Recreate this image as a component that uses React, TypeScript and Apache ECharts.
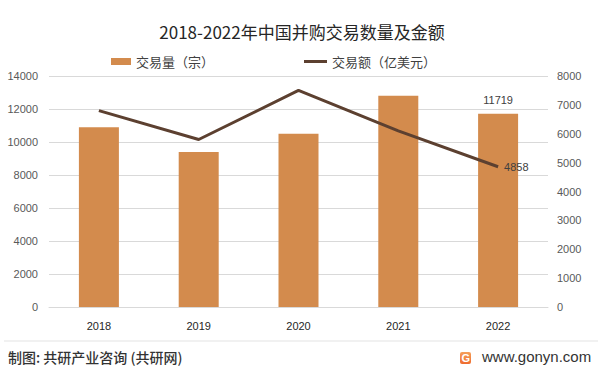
import React, { useEffect, useRef } from "react";
import * as echarts from "echarts";

const categories = ["2018", "2019", "2020", "2021", "2022"];
const dealCount = [10900, 9400, 10500, 12800, 11719];
const dealValue = [6800, 5800, 7500, 6100, 4858];
const leftTicks = [0, 14000, 2000];
const rightTicks = [0, 8000, 1000];

export default function App() {
  const ref = useRef<HTMLDivElement>(null);
  useEffect(() => {
    if (!ref.current) return;
    const chart = echarts.init(ref.current, undefined, { renderer: "svg" });
    const font = "'Noto Sans CJK SC', 'Noto Sans', sans-serif";
    const numFont = "'Liberation Sans', Arial, sans-serif";
    chart.setOption({
      animation: false,
      backgroundColor: "#ffffff",
      title: {
        text: "2018-2022年中国并购交易数量及金额",
        left: "center",
        top: 18,
        textStyle: { fontFamily: font, fontSize: 17, fontWeight: "normal", color: "#262626" },
      },
      legend: [
        {
          left: 106,
          top: 50,
          itemWidth: 20,
          itemHeight: 7,
          data: [{ name: "交易量（宗）", icon: "rect" }],
          textStyle: { fontFamily: font, fontSize: 13, color: "#404040" },
        },
        {
          left: 299,
          top: 50,
          itemWidth: 23,
          itemHeight: 3,
          data: [{ name: "交易额（亿美元）", icon: "rect" }],
          textStyle: { fontFamily: font, fontSize: 13, color: "#404040" },
        },
      ],
      grid: { left: 49, right: 56, top: 76, bottom: 66 },
      xAxis: {
        type: "category",
        data: categories,
        axisTick: { show: false },
        axisLine: { lineStyle: { color: "#d9d9d9" } },
        axisLabel: { fontFamily: numFont, fontSize: 11, color: "#262626", margin: 13 },
      },
      yAxis: [
        {
          type: "value",
          min: leftTicks[0],
          max: leftTicks[1],
          interval: leftTicks[2],
          axisLine: { show: false },
          axisTick: { show: false },
          splitLine: { lineStyle: { color: "#d9d9d9" } },
          axisLabel: { fontFamily: numFont, fontSize: 11, color: "#595959", margin: 11, formatter: (v: number) => String(v) },
        },
        {
          type: "value",
          min: rightTicks[0],
          max: rightTicks[1],
          interval: rightTicks[2],
          axisLine: { show: false },
          axisTick: { show: false },
          splitLine: { show: false },
          axisLabel: { fontFamily: numFont, fontSize: 11, color: "#595959", margin: 9, formatter: (v: number) => String(v) },
        },
      ],
      series: [
        {
          name: "交易量（宗）",
          type: "bar",
          data: dealCount.map((v, i) =>
            i === dealCount.length - 1
              ? { value: v, label: { show: true, position: "top", distance: 8, fontFamily: numFont, fontSize: 11, color: "#404040" } }
              : v
          ),
          barWidth: 40,
          itemStyle: { color: "#D38B4D" },
        },
        {
          name: "交易额（亿美元）",
          type: "line",
          yAxisIndex: 1,
          data: dealValue.map((v, i) =>
            i === dealValue.length - 1
              ? { value: v, label: { show: true, position: "right", distance: 6, fontFamily: numFont, fontSize: 11, color: "#404040" } }
              : v
          ),
          symbol: "circle",
          symbolSize: 0,
          showSymbol: true,
          lineStyle: { color: "#5C4030", width: 3 },
          itemStyle: { color: "#5C4030" },
        },
      ],
      graphic: [
        { type: "line", shape: { x1: 4, y1: 341, x2: 598, y2: 341 }, style: { stroke: "#e3e3e3", lineWidth: 1 } },
        {
          type: "text",
          left: 8,
          top: 350,
          style: { text: "制图: 共研产业咨询 (共研网)", fontFamily: font, fontSize: 14, fontWeight: 500, fill: "#333333" },
        },
        {
          type: "rect",
          shape: { x: 460, y: 352, width: 11, height: 12, r: 2 },
          style: {
            fill: new echarts.graphic.LinearGradient(0, 0, 0, 1, [
              { offset: 0, color: "#F5A05A" },
              { offset: 1, color: "#EE6B2E" },
            ]),
          },
        },
        {
          type: "text",
          left: 461.5,
          top: 352,
          style: { text: "G", fontFamily: numFont, fontSize: 11, fontWeight: "bold", fill: "#ffffff" },
        },
        {
          type: "text",
          left: 482,
          top: 349,
          style: { text: "www.gonyn.com", fontFamily: numFont, fontSize: 15, fill: "#333333" },
        },
      ],
    });
    return () => chart.dispose();
  }, []);
  return <div ref={ref} style={{ width: 604, height: 373, position: "absolute", left: 0, top: 0 }} />;
}
